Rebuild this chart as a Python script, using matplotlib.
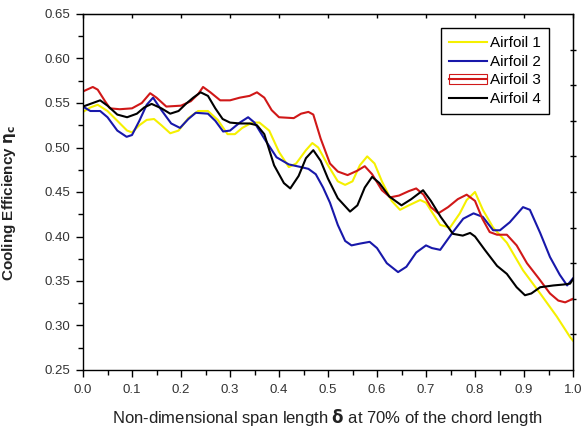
import matplotlib
matplotlib.use("Agg")
import matplotlib.pyplot as plt
from matplotlib.patches import Rectangle
from matplotlib.ticker import MultipleLocator, FixedLocator

plt.rcParams['font.family'] = ['Liberation Sans', 'DejaVu Sans']

# Airfoil 1 (yellow)
x1 = [0.000, 0.015, 0.030, 0.050, 0.070, 0.090, 0.100, 0.115, 0.130, 0.145,
      0.160, 0.178, 0.195, 0.215, 0.235, 0.255, 0.275, 0.295, 0.310, 0.325,
      0.345, 0.360, 0.380, 0.400, 0.420, 0.435, 0.455, 0.468, 0.480, 0.500,
      0.520, 0.535, 0.550, 0.565, 0.580, 0.595, 0.610, 0.630, 0.647, 0.665,
      0.688, 0.700, 0.715, 0.729, 0.749, 0.769, 0.783, 0.800, 0.816, 0.837,
      0.865, 0.898, 0.933, 0.967, 0.994, 1.000]
y1 = [0.540, 0.545, 0.548, 0.541, 0.530, 0.519, 0.517, 0.525, 0.531, 0.532,
      0.525, 0.516, 0.519, 0.533, 0.541, 0.541, 0.531, 0.515, 0.515, 0.522,
      0.528, 0.528, 0.519, 0.495, 0.478, 0.482, 0.497, 0.505, 0.500, 0.480,
      0.462, 0.458, 0.462, 0.480, 0.490, 0.482, 0.462, 0.440, 0.430, 0.435,
      0.441, 0.438, 0.425, 0.413, 0.410, 0.426, 0.441, 0.450, 0.430, 0.410,
      0.393, 0.362, 0.336, 0.310, 0.287, 0.283]

# Airfoil 2 (blue)
x2 = [0.000, 0.015, 0.035, 0.050, 0.070, 0.089, 0.100, 0.115, 0.130, 0.143,
      0.160, 0.180, 0.198, 0.215, 0.230, 0.255, 0.270, 0.286, 0.300, 0.320,
      0.337, 0.350, 0.370, 0.395, 0.420, 0.445, 0.460, 0.475, 0.490, 0.504,
      0.520, 0.535, 0.548, 0.565, 0.585, 0.600, 0.620, 0.643, 0.660, 0.680,
      0.700, 0.712, 0.729, 0.755, 0.776, 0.797, 0.816, 0.837, 0.851, 0.871,
      0.898, 0.912, 0.933, 0.953, 0.973, 0.988, 1.000]
y2 = [0.546, 0.541, 0.541, 0.534, 0.519, 0.512, 0.514, 0.530, 0.548, 0.556,
      0.542, 0.527, 0.522, 0.532, 0.539, 0.538, 0.530, 0.518, 0.519, 0.528,
      0.534, 0.528, 0.510, 0.489, 0.481, 0.478, 0.476, 0.470, 0.455, 0.438,
      0.413, 0.395, 0.390, 0.392, 0.394, 0.387, 0.370, 0.360, 0.366, 0.382,
      0.390, 0.387, 0.385, 0.405, 0.420, 0.426, 0.422, 0.407, 0.407, 0.416,
      0.433, 0.430, 0.404, 0.377, 0.357, 0.345, 0.353]

# Airfoil 3 (red)
x3 = [0.000, 0.020, 0.030, 0.045, 0.055, 0.075, 0.100, 0.120, 0.137, 0.150,
      0.170, 0.200, 0.220, 0.235, 0.245, 0.260, 0.280, 0.300, 0.320, 0.340,
      0.355, 0.370, 0.385, 0.400, 0.430, 0.445, 0.460, 0.470, 0.485, 0.504,
      0.520, 0.540, 0.560, 0.575, 0.590, 0.610, 0.627, 0.645, 0.665, 0.680,
      0.695, 0.710, 0.725, 0.745, 0.765, 0.783, 0.800, 0.815, 0.830, 0.845,
      0.865, 0.885, 0.906, 0.930, 0.953, 0.970, 0.984, 1.000]
y3 = [0.563, 0.568, 0.565, 0.552, 0.544, 0.543, 0.544, 0.550, 0.561, 0.556,
      0.546, 0.547, 0.552, 0.560, 0.568, 0.562, 0.553, 0.553, 0.556, 0.558,
      0.562, 0.556, 0.542, 0.534, 0.533, 0.538, 0.540, 0.537, 0.510, 0.482,
      0.473, 0.469, 0.474, 0.479, 0.470, 0.452, 0.444, 0.446, 0.451, 0.454,
      0.447, 0.433, 0.426, 0.433, 0.442, 0.447, 0.440, 0.420, 0.405, 0.402,
      0.402, 0.390, 0.370, 0.353, 0.336, 0.328, 0.326, 0.330]

# Airfoil 4 (black)
x4 = [0.000, 0.020, 0.035, 0.050, 0.070, 0.090, 0.110, 0.125, 0.140, 0.160,
      0.178, 0.195, 0.210, 0.225, 0.240, 0.255, 0.270, 0.285, 0.300, 0.320,
      0.340, 0.355, 0.370, 0.390, 0.410, 0.423, 0.440, 0.455, 0.470, 0.485,
      0.500, 0.520, 0.545, 0.560, 0.575, 0.590, 0.605, 0.625, 0.650, 0.670,
      0.694, 0.710, 0.730, 0.755, 0.775, 0.790, 0.800, 0.820, 0.845, 0.865,
      0.885, 0.902, 0.915, 0.933, 0.960, 0.980, 0.994, 1.000]
y4 = [0.546, 0.550, 0.553, 0.547, 0.537, 0.534, 0.538, 0.545, 0.549, 0.544,
      0.538, 0.541, 0.549, 0.556, 0.562, 0.558, 0.544, 0.532, 0.528, 0.527,
      0.527, 0.525, 0.515, 0.480, 0.460, 0.454, 0.468, 0.488, 0.497, 0.485,
      0.465, 0.443, 0.428, 0.435, 0.455, 0.467, 0.460, 0.445, 0.435, 0.442,
      0.452, 0.440, 0.422, 0.403, 0.401, 0.404, 0.400, 0.385, 0.367, 0.358,
      0.343, 0.334, 0.336, 0.343, 0.345, 0.346, 0.347, 0.352]

labels = ["Airfoil 1", "Airfoil 2", "Airfoil 3", "Airfoil 4"]
colors = ["#f5f000", "#1818aa", "#d01818", "#000000"]

fig = plt.figure(figsize=(5.81, 4.28), dpi=100)
ax = fig.add_axes([83/581, 58/428, 490/581, 356/428])

lines = []
for xs, ys, c in zip([x1, x2, x3, x4], [y1, y2, y3, y4], colors):
    ln, = ax.plot(xs, ys, color=c, lw=1.5, solid_joinstyle='round')
    lines.append(ln)

ax.set_xlim(0, 1.0)
ax.set_ylim(0.25, 0.65)
ax.xaxis.set_major_locator(MultipleLocator(0.1))
ax.xaxis.set_minor_locator(MultipleLocator(0.05))
ax.yaxis.set_major_locator(MultipleLocator(0.05))
ax.yaxis.set_minor_locator(MultipleLocator(0.025))
ax.xaxis.set_major_formatter(plt.FormatStrFormatter('%.1f'))
ax.yaxis.set_major_formatter(plt.FormatStrFormatter('%.2f'))
ax.tick_params(which='major', direction='out', length=5, width=1, labelsize=9.5,
               labelcolor='#333333')
ax.tick_params(axis='y', which='major', pad=4)
ax.tick_params(axis='x', which='major', pad=5)
ax.tick_params(which='minor', direction='out', length=3.5, width=1)
for s in ax.spines.values():
    s.set_linewidth(1.0)

top = ax.secondary_xaxis('top')
top.xaxis.set_major_locator(MultipleLocator(0.1))
top.tick_params(direction='in', length=3, width=1, labeltop=False)
right = ax.secondary_yaxis('right')
right.yaxis.set_major_locator(FixedLocator([0.29, 0.33, 0.37, 0.41, 0.45, 0.49, 0.53, 0.57, 0.61]))
right.tick_params(direction='inout', length=5, width=1, labelright=False)

ax.set_xlabel("Non-dimensional span length $\\mathbf{\\delta}$ at 70% of the chord length",
              fontsize=12, color='#222222', labelpad=8)
ax.set_ylabel("Cooling Efficiency $\\mathbf{\\eta_c}$", fontsize=11, fontweight='bold',
              color='#222222')
ax.yaxis.set_label_coords(-0.133, 0.47)

rect = Rectangle((0, 0), 1, 1, facecolor='none', edgecolor=colors[2], lw=0.8)
handles = [lines[0], lines[1], (rect, lines[2]), lines[3]]
leg = ax.legend(handles, labels, loc='upper right', bbox_to_anchor=(0.951, 0.961),
                borderaxespad=0, fancybox=False, framealpha=1, edgecolor='black',
                fontsize=11, handlelength=2.5, handletextpad=0.15, labelspacing=0.3,
                borderpad=0.55)
leg.get_frame().set_linewidth(1.0)

fig.savefig("out.png", dpi=100)
